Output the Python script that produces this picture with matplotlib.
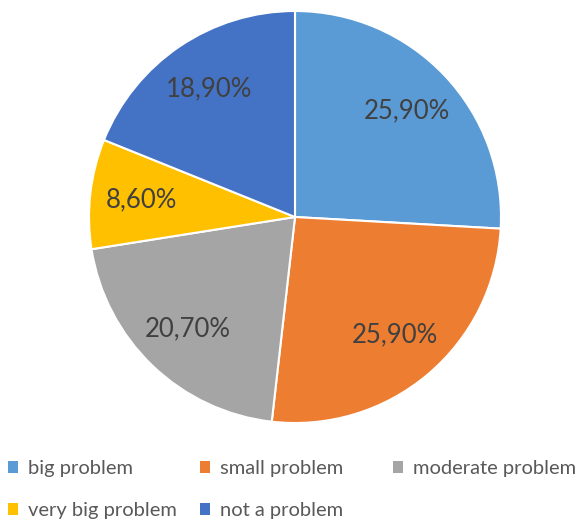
import matplotlib
matplotlib.use("Agg")
import matplotlib.pyplot as plt
from matplotlib.patches import Patch

categories = ["big problem", "small problem", "moderate problem", "very big problem", "not a problem"]
values = [25.9, 25.9, 20.7, 8.6, 18.9]
colors = ["#5B9BD5", "#ED7D31", "#A5A5A5", "#FFC000", "#4472C4"]

plt.rcParams["font.family"] = ["Lato", "DejaVu Sans"]

W, H = 579, 522
fig = plt.figure(figsize=(W / 100, H / 100), dpi=100)
fig.patch.set_facecolor("white")

cx, cy, r = 295, 217, 206
ax = fig.add_axes([(cx - r) / W, (H - cy - r) / H, 2 * r / W, 2 * r / H])

wedges, texts, autotexts = ax.pie(
    values, colors=colors, startangle=90, counterclock=False,
    autopct=lambda p: f"{p:.2f}%".replace(".", ","), pctdistance=0.75,
    wedgeprops=dict(edgecolor="white", linewidth=1.5),
    textprops=dict(color="#404040", fontsize=18.5),
)
ax.set_xlim(-1, 1)
ax.set_ylim(-1, 1)
ax.set_aspect("equal")
ax.axis("off")

# Legend laid out in Excel row-major order: 3 columns
columns = [[0, 3], [1, 4], [2]]
col_x = [8, 200, 393]
for ci, idxs in enumerate(columns):
    handles = [Patch(facecolor=colors[i], edgecolor="none") for i in idxs]
    labels = [categories[i] for i in idxs]
    leg = fig.legend(handles, labels, loc="upper left",
                     bbox_to_anchor=(col_x[ci] / W, 1 - 460 / H),
                     frameon=False, fontsize=14.5, handlelength=0.5, handleheight=0.5,
                     handletextpad=0.5, labelspacing=1.25, borderpad=0, borderaxespad=0)
    for t in leg.get_texts():
        t.set_color("#595959")

fig.savefig("out.png", dpi=100)
